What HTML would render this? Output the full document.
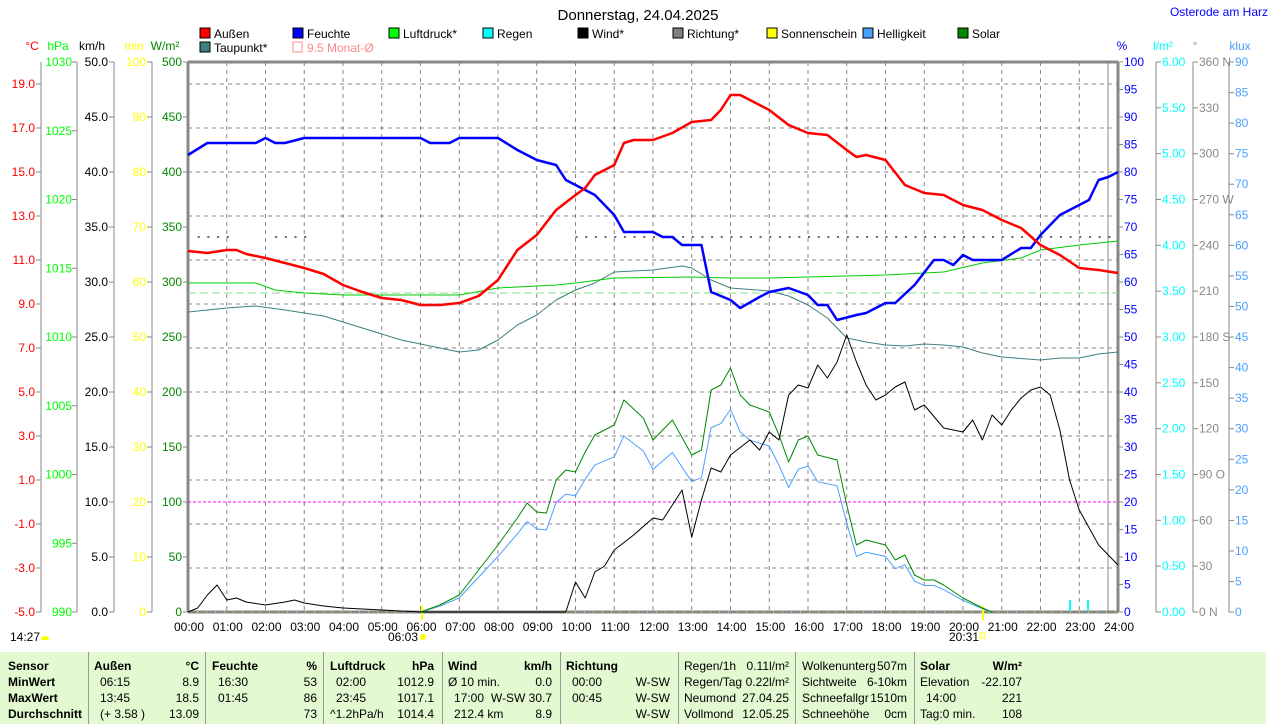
<!DOCTYPE html>
<html><head><meta charset="utf-8"><style>
body{margin:0;width:1274px;height:724px;background:#fff;overflow:hidden;font-family:"Liberation Sans",sans-serif}
svg{position:absolute;left:0;top:0}
text{font-family:"Liberation Sans",sans-serif;font-size:12px}
#tbl{position:absolute;left:0;top:652px;width:1266px;height:72px;background:#e2f9d2;font-size:12px}
#tbl div{position:absolute;white-space:nowrap}
.b{font-weight:bold}
.sep{position:absolute;top:0;width:1px;height:72px;background:#999}
</style></head><body>
<svg id="s" width="1274" height="652" xmlns="http://www.w3.org/2000/svg"></svg>
<div id="tbl"></div>
<script>
const s=document.getElementById('s');let h='';
const X=t=>188+38.75*t;
function txt(x,y,t,c,a,extra){h+=`<text x="${x}" y="${y}" fill="${c}" text-anchor="${a||'start'}" ${extra||''}>${t}</text>`;}
function ln(x1,y1,x2,y2,c,w,d){h+=`<line x1="${x1}" y1="${y1}" x2="${x2}" y2="${y2}" stroke="${c}" stroke-width="${w||1}" ${d?`stroke-dasharray="${d}"`:''}/>`;}
// grid
for(let i=1;i<24;i++)ln(X(i),62,X(i),612,'#888',1,'4 4');
for(let y=84;y<612;y+=44)ln(188,y,1118,y,'#888',1,'4 4');
ln(188,62,1118,62,'#888',3);ln(188,612,1118,612,'#888',3);ln(188,62,188,612,'#888',3);ln(1118,62,1118,612,'#888',3);
ln(1108,62,1108,612,'#888',1);
// title
txt(638,20,'Donnerstag, 24.04.2025','#000','middle','style="font-size:15px"');
txt(1268,16,'Osterode am Harz','#00f','end');
// legend
const L=[[200,38,'#f00','Außen'],[293,38,'#00f','Feuchte'],[389,38,'#0f0','Luftdruck*'],[483,38,'#0ff','Regen'],[578,38,'#000','Wind*'],[673,38,'#808080','Richtung*'],[767,38,'#ff0','Sonnenschein'],[863,38,'#4aa0ff','Helligkeit'],[958,38,'#080','Solar'],[200,52,'#3f7f7f','Taupunkt*']];
L.forEach(l=>{h+=`<rect x="${l[0]}" y="${l[1]-10}" width="10" height="10" fill="${l[2]}" stroke="#000"/>`;txt(l[0]+14,l[1]+0,l[3],'#000');});
h+=`<rect x="293" y="42" width="9" height="10" fill="none" stroke="#f88"/>`;txt(307,52,'9.5 Monat-Ø','#f88');
// axes
function axis(xl,vals,y0,step,c,lblx,anchor,tickDir){ln(xl,62,xl,612,'#888');vals.forEach((v,i)=>{const y=y0+step*i;ln(xl,y,xl+tickDir*5,y,'#888');txt(lblx,y+4,v,c,anchor);});}
txt(32,50,'°C','#f00','middle');txt(58,50,'hPa','#0f0','middle');txt(92,50,'km/h','#000','middle');txt(134,50,'min','#ff0','middle');txt(165,50,'W/m²','#080','middle');
axis(41,['19.0','17.0','15.0','13.0','11.0','9.0','7.0','5.0','3.0','1.0','-1.0','-3.0','-5.0'],84,44,'#f00',35,'end',-1);
axis(77,['1030','1025','1020','1015','1010','1005','1000','995','990'],62,68.75,'#0f0',72,'end',-1);
axis(114,['50.0','45.0','40.0','35.0','30.0','25.0','20.0','15.0','10.0','5.0','0.0'],62,55,'#000',108,'end',-1);
axis(152,['100','90','80','70','60','50','40','30','20','10','0'],62,55,'#ff0',146,'end',-1);
axis(188,['500','450','400','350','300','250','200','150','100','50','0'],62,55,'#080',182,'end',-1);
txt(1122,50,'%','#00f','middle');txt(1163,50,'l/m²','#0ff','middle');txt(1195,50,'°','#888','middle');txt(1240,50,'klux','#4aa0ff','middle');
let pv=[];for(let v=100;v>=0;v-=5)pv.push(v);
axis(1118,pv,62,27.5,'#00f',1124,'start',1);
axis(1156,['6.00','5.50','5.00','4.50','4.00','3.50','3.00','2.50','2.00','1.50','1.00','0.50','0.00'],62,45.83,'#0ff',1162,'start',1);
axis(1193,['360 N','330','300','270 W','240','210','180 S','150','120','90 O','60','30','0 N'],62,45.83,'#888',1199,'start',1);
let kv=[];for(let v=90;v>=0;v-=5)kv.push(v);
axis(1229,kv,62,30.56,'#4aa0ff',1235,'start',1);
// x labels
for(let i=0;i<=24;i++)txt(X(i)+1,631,(i<10?'0':'')+i+':00','#000','middle');
txt(403,641,'06:03','#000','middle');h+=`<circle cx="423" cy="637" r="3" fill="#ff0"/>`;
txt(964,641,'20:31','#000','middle');h+=`<rect x="980" y="633" width="5" height="5" fill="none" stroke="#ff0"/>`;
txt(10,641,'14:27','#000');h+=`<path d="M41 640 a4 4 0 0 1 8 0z" fill="#ff0"/>`;
ln(422,606,422,620,'#ff0',2);ln(983,606,983,620,'#ff0',2);
ln(188,612,1118,612,'#ff0',1,'1 8');
// lines
function pl(d,c,w,f){const p=d.map(a=>X(a[0])+','+(f?f(a[1]):a[1])).join(' ');h+=`<polyline points="${p}" fill="none" stroke="${c}" stroke-width="${w}" stroke-linejoin="round"/>`;}
ln(188,502,1118,502,'#f0f',1,'3 2');
ln(188,293,1118,293,'#8d8',1,'8 4');
// direction dots
function dots(a,b){for(let t=a;t<=b;t+=0.25)h+=`<rect x="${X(t)}" y="236" width="2" height="2" fill="#666"/>`;}
dots(0.25,1);dots(2.25,3);dots(10,23.75);
const sol=[[6,612],[6.5,605],[7,595],[7.5,570],[8,545],[8.5,518],[8.75,503],[9,512],[9.25,513],[9.5,480],[9.75,470],[10,472],[10.25,452],[10.5,435],[11,425],[11.25,400],[11.75,418],[12,440],[12.5,420],[13,455],[13.25,450],[13.5,390],[13.75,385],[14,368],[14.25,395],[14.5,405],[15,412],[15.25,435],[15.5,462],[15.75,440],[16,436],[16.25,455],[16.75,460],[17,505],[17.25,545],[17.5,540],[18,545],[18.25,560],[18.5,555],[18.75,575],[19,580],[19.25,580],[19.5,585],[20,598],[20.5,608],[20.75,612]];
pl(sol,'#4aa0ff',1,y=>612-(612-y)*0.83);
pl(sol,'#080',1);
pl([[0,312],[1,308],[1.75,306],[2.5,310],[3.5,316],[4.5,328],[5.5,340],[6.5,348],[7,352],[7.5,350],[8,340],[8.5,325],[9,315],[9.5,300],[10,290],[10.5,283],[11,272],[12,270],[12.75,266],[13,268],[13.5,280],[14,288],[15,291],[15.5,296],[16,305],[16.5,318],[17,338],[17.5,342],[18,345],[18.5,346],[19,344],[19.5,345],[20,347],[20.5,353],[21,357],[22,360],[22.5,358],[23,358],[23.5,354],[24,352]],'#3f7f7f',1);
pl([[0,283],[1.75,283],[2.25,290],[3,293],[4,295],[7,295],[8,288],[9.5,285],[10,283],[11,278],[13,277],[14,278],[15,278],[16,277],[18,275],[19.5,272],[20.5,263],[21.5,258],[22,250],[23,245],[24,241]],'#0c0',1);
pl([[0,612],[0.25,608],[0.5,595],[0.75,585],[1,600],[1.25,598],[1.5,602],[2,605],[2.5,602],[2.75,600],[3,603],[3.5,606],[4,608],[5,610],[6,612],[9.75,612],[10,582],[10.25,598],[10.5,572],[10.75,566],[11,550],[11.5,535],[12,518],[12.25,520],[12.5,505],[12.75,490],[13,537],[13.25,500],[13.5,468],[13.75,472],[14,455],[14.5,440],[14.75,450],[15,432],[15.25,440],[15.5,395],[15.75,385],[16,388],[16.25,365],[16.5,378],[16.75,362],[17,335],[17.25,362],[17.5,385],[17.75,400],[18,395],[18.25,387],[18.5,382],[18.75,410],[19,405],[19.5,428],[20,432],[20.25,420],[20.5,440],[20.75,415],[21,425],[21.25,410],[21.5,398],[21.75,390],[22,387],[22.25,395],[22.5,430],[22.75,480],[23,510],[23.5,545],[24,565]],'#000',1);
pl([[0,155],[0.5,143],[1.75,143],[2,138],[2.25,143],[2.5,143],[3,138],[6,138],[6.25,143],[6.75,143],[7,138],[8,138],[8.5,150],[9,160],[9.5,165],[9.75,180],[10,185],[10.5,195],[11,215],[11.25,232],[12,232],[12.25,237],[12.5,237],[12.75,245],[13.25,245],[13.5,292],[14,300],[14.25,308],[14.75,297],[15,292],[15.5,288],[16,295],[16.25,305],[16.5,305],[16.75,320],[17.25,315],[17.5,313],[18,303],[18.25,303],[18.75,285],[19.25,260],[19.5,260],[19.75,265],[20,255],[20.25,260],[21,260],[21.5,248],[21.75,248],[22,235],[22.5,215],[22.75,210],[23.25,200],[23.5,180],[23.75,177],[24,172]],'#00f',2.5);
pl([[0,251],[0.5,253],[1,250],[1.25,250],[1.5,254],[2,258],[2.5,263],[3,268],[3.5,274],[4,285],[4.5,292],[5,298],[5.5,300],[6,305],[6.5,305],[7,303],[7.5,296],[8,280],[8.5,250],[9,235],[9.5,210],[10,195],[10.25,188],[10.5,175],[11,165],[11.25,143],[11.5,140],[12,140],[12.5,133],[13,122],[13.5,120],[13.75,110],[14,95],[14.25,95],[14.5,100],[15,110],[15.5,125],[16,133],[16.5,135],[17,150],[17.25,157],[17.5,155],[18,160],[18.5,185],[19,193],[19.5,195],[20,205],[20.5,210],[21,220],[21.5,228],[22,245],[22.5,255],[23,268],[23.5,270],[24,273]],'#f00',2.5);
ln(1070,600,1070,611,'#0ff',2);ln(1088,600,1088,611,'#0ff',2);
s.innerHTML=h;
// table
const T=document.getElementById('tbl');let t='';
[88,205,323,442,560,678,795,914].forEach(x=>t+=`<div class="sep" style="left:${x}px"></div>`);
const rows=[7,23,39,55];
function c(x,r,s,cls,al){t+=`<div class="${cls||''}" style="${al?'right:'+(1266-x)+'px':'left:'+x+'px'};top:${rows[r]}px">${s}</div>`;}
['Sensor','MinWert','MaxWert','Durchschnitt'].forEach((v,i)=>c(8,i,v,'b'));
c(94,0,'Außen','b');c(199,0,'°C','b',1);c(100,1,'06:15');c(199,1,'8.9','',1);c(100,2,'13:45');c(199,2,'18.5','',1);c(100,3,'(+ 3.58 )');c(199,3,'13.09','',1);
c(212,0,'Feuchte','b');c(317,0,'%','b',1);c(218,1,'16:30');c(317,1,'53','',1);c(218,2,'01:45');c(317,2,'86','',1);c(317,3,'73','',1);
c(330,0,'Luftdruck','b');c(434,0,'hPa','b',1);c(336,1,'02:00');c(434,1,'1012.9','',1);c(336,2,'23:45');c(434,2,'1017.1','',1);c(330,3,'^1.2hPa/h');c(434,3,'1014.4','',1);
c(448,0,'Wind','b');c(552,0,'km/h','b',1);c(448,1,'Ø 10 min.');c(552,1,'0.0','',1);c(454,2,'17:00');c(552,2,'W-SW 30.7','',1);c(454,3,'212.4 km');c(552,3,'8.9','',1);
c(566,0,'Richtung','b');c(572,1,'00:00');c(572,2,'00:45');c(670,1,'W-SW','',1);c(670,2,'W-SW','',1);c(670,3,'W-SW','',1);
c(684,0,'Regen/1h');c(789,0,'0.11l/m²','',1);c(684,1,'Regen/Tag');c(789,1,'0.22l/m²','',1);c(684,2,'Neumond');c(789,2,'27.04.25','',1);c(684,3,'Vollmond');c(789,3,'12.05.25','',1);
c(802,0,'Wolkenunterg');c(907,0,'507m','',1);c(802,1,'Sichtweite');c(907,1,'6-10km','',1);c(802,2,'Schneefallgr');c(907,2,'1510m','',1);c(802,3,'Schneehöhe');c(907,3,'0cm','',1);
c(920,0,'Solar','b');c(1022,0,'W/m²','b',1);c(920,1,'Elevation');c(1022,1,'-22.107','',1);c(926,2,'14:00');c(1022,2,'221','',1);c(920,3,'Tag:0 min.');c(1022,3,'108','',1);
T.innerHTML=t;
</script>
</body></html>
